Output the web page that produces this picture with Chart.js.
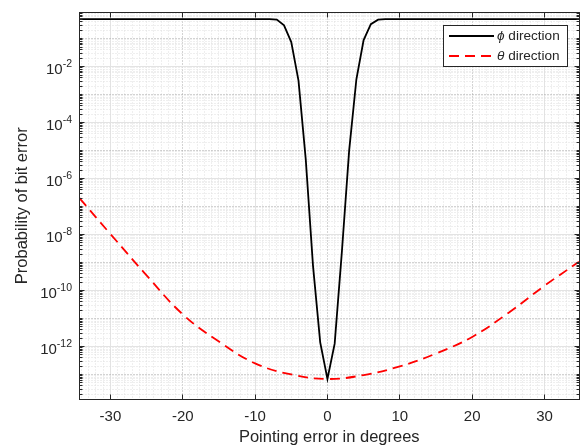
<!DOCTYPE html>
<html>
<head>
<meta charset="utf-8">
<title>Probability of bit error vs pointing error</title>
<script src="https://cdn.jsdelivr.net/npm/chart.js@4.4.0/dist/chart.umd.min.js"></script>
<style>
html, body { margin: 0; padding: 0; background: #fff; }
</style>
</head>
<body>
<canvas id="ber_canvas" width="585" height="447"></canvas>
<script>
// pointing error (degrees) and bit error probability, phi direction
var phi_x = [-34.27, -8, -7, -6, -5, -4, -3, -2, -1, 0, 1, 2, 3, 4, 5, 6, 7, 8, 34.77];
var phi_ber = [0.5, 0.5, 0.48, 0.30, 7.6e-2, 3.16e-3, 5.0e-6, 7.9e-10, 1.41e-12, 6.9e-14,
               1.26e-12, 2.5e-9, 1.0e-5, 3.55e-3, 8.9e-2, 0.33, 0.48, 0.5, 0.5];

// theta direction
var theta_x = [-34.27, -30, -25, -20, -15, -10, -5, 0, 5, 10, 15, 20, 25, 30, 34.77];
var theta_ber = [2.0e-7, 1.05e-8, 3.5e-10, 1.41e-11, 1.5e-12, 2.5e-13, 1.0e-13, 6.9e-14,
                 9.5e-14, 1.95e-13, 5.6e-13, 2.2e-12, 1.58e-11, 1.48e-10, 1.07e-9];

var x_ticks = [-30, -20, -10, 0, 10, 20, 30];
var y_tick_exp = [-2, -4, -6, -8, -10, -12];
var x_limits = [-34.27, 34.77];
var y_limits = [1.33e-14, 0.863];

var series_names = ['direction', 'direction'];
var series_symbols = ['\u03d5', '\u03b8'];

var FONT = '"Liberation Sans", Arial, Helvetica, sans-serif';
var INK = '#262626';

function toPoints(xs, ys) {
    var pts = [];
    for (var i = 0; i < xs.length; i++) {
        pts.push({ x: xs[i], y: ys[i] });
    }
    return pts;
}

function crisp(v) {
    return Math.round(v - 0.5) + 0.5;
}

// grid in the matlab style: solid majors, dotted minors
var gridPlugin = {
    id: 'matlabGrid',
    beforeDatasetsDraw: function (chart) {
        var ctx = chart.ctx;
        var area = chart.chartArea;
        var xs = chart.scales.x;
        var ys = chart.scales.y;
        ctx.save();
        ctx.beginPath();
        ctx.rect(area.left, area.top, area.right - area.left, area.bottom - area.top);
        ctx.clip();
        ctx.lineWidth = 1;

        // vertical lines, one per degree
        for (var d = Math.ceil(x_limits[0]); d <= Math.floor(x_limits[1]); d++) {
            var px = crisp(xs.getPixelForValue(d));
            if (d % 20 === 10 || d % 20 === -10) {
                ctx.setLineDash([]);
                ctx.strokeStyle = '#e3e3e3';
            } else if (d % 20 === 0) {
                ctx.setLineDash([1, 2]);
                ctx.strokeStyle = '#a6a6a6';
            } else {
                ctx.setLineDash([1, 2]);
                ctx.strokeStyle = '#dedede';
            }
            ctx.beginPath();
            ctx.moveTo(px, area.top);
            ctx.lineTo(px, area.bottom);
            ctx.stroke();
        }

        // horizontal lines at 1..9 x 10^n
        for (var n = -14; n <= 0; n++) {
            for (var m = 1; m <= 9; m++) {
                var v = m * Math.pow(10, n);
                if (v < y_limits[0] || v > y_limits[1]) continue;
                var py = crisp(ys.getPixelForValue(v));
                if (m === 1 && n % 2 === 0) {
                    ctx.setLineDash([]);
                    ctx.strokeStyle = '#e3e3e3';
                } else if (m === 1) {
                    ctx.setLineDash([1, 2]);
                    ctx.strokeStyle = '#a6a6a6';
                } else {
                    ctx.setLineDash([1, 2]);
                    ctx.strokeStyle = '#dedede';
                }
                ctx.beginPath();
                ctx.moveTo(area.left, py);
                ctx.lineTo(area.right, py);
                ctx.stroke();
            }
        }
        ctx.restore();
    },
    afterDatasetsDraw: function (chart) {
        var ctx = chart.ctx;
        var area = chart.chartArea;
        var xs = chart.scales.x;
        var ys = chart.scales.y;
        var L = crisp(area.left), R = crisp(area.right), T = crisp(area.top), B = crisp(area.bottom);
        ctx.save();
        ctx.setLineDash([]);
        ctx.strokeStyle = INK;
        ctx.lineWidth = 1;

        // axes box
        ctx.strokeRect(L, T, R - L, B - T);

        // x ticks, inward on bottom and top
        ctx.beginPath();
        x_ticks.forEach(function (t) {
            var px = crisp(xs.getPixelForValue(t));
            ctx.moveTo(px, B); ctx.lineTo(px, B - 5);
            ctx.moveTo(px, T); ctx.lineTo(px, T + 5);
        });
        // y ticks, majors every other decade, minors elsewhere
        for (var n = -14; n <= 0; n++) {
            for (var m = 1; m <= 9; m++) {
                var v = m * Math.pow(10, n);
                if (v < y_limits[0] || v > y_limits[1]) continue;
                var py = crisp(ys.getPixelForValue(v));
                var len = (m === 1 && n % 2 === 0) ? 5 : 3;
                ctx.moveTo(L, py); ctx.lineTo(L + len, py);
                ctx.moveTo(R, py); ctx.lineTo(R - len, py);
            }
        }
        ctx.stroke();

        // tick labels
        ctx.fillStyle = INK;
        ctx.font = '15px ' + FONT;
        ctx.textAlign = 'center';
        ctx.textBaseline = 'alphabetic';
        x_ticks.forEach(function (t) {
            ctx.fillText(String(t), xs.getPixelForValue(t), area.bottom + 22);
        });

        y_tick_exp.forEach(function (e) {
            var py = ys.getPixelForValue(Math.pow(10, e));
            var sup = String(e);
            ctx.font = '10.5px ' + FONT;
            var supW = ctx.measureText(sup).width;
            ctx.textAlign = 'right';
            ctx.fillText(sup, 72, py + 0.5);
            ctx.font = '15px ' + FONT;
            ctx.fillText('10', 72 - supW, py + 7.5);
        });

        // axis titles
        ctx.font = '16.5px ' + FONT;
        ctx.textAlign = 'center';
        ctx.fillText('Pointing error in degrees', (area.left + area.right) / 2, 441.5);
        ctx.save();
        ctx.translate(27, (area.top + area.bottom) / 2);
        ctx.rotate(-Math.PI / 2);
        ctx.fillText('Probability of bit error', 0, 0);
        ctx.restore();

        // legend box, top right inside the axes
        var bx = 443.5, by = 25.5, bw = 124, bh = 41;
        ctx.fillStyle = '#ffffff';
        ctx.fillRect(bx, by, bw, bh);
        ctx.strokeStyle = INK;
        ctx.strokeRect(bx, by, bw, bh);
        var rows = [36, 56];
        chart.data.datasets.forEach(function (ds, i) {
            var ry = rows[i];
            ctx.save();
            ctx.strokeStyle = ds.borderColor;
            ctx.lineWidth = ds.borderWidth;
            ctx.setLineDash(ds.borderDash || []);
            ctx.beginPath();
            ctx.moveTo(449, ry);
            ctx.lineTo(494, ry);
            ctx.stroke();
            ctx.restore();
            ctx.fillStyle = INK;
            ctx.textAlign = 'left';
            ctx.textBaseline = 'middle';
            ctx.font = 'italic 13.6px ' + FONT;
            ctx.fillText(series_symbols[i], 497, ry + 0.5);
            var symW = ctx.measureText(series_symbols[i]).width;
            ctx.font = '13.6px ' + FONT;
            ctx.fillText(' ' + series_names[i], 497 + symW, ry + 0.5);
        });
        ctx.restore();
    }
};

function ber_chart() {
    var ctx = document.getElementById('ber_canvas');
    new Chart(ctx, {
        type: 'line',
        data: {
            datasets: [{
                label: '\u03d5 direction',
                data: toPoints(phi_x, phi_ber),
                borderColor: '#000000',
                borderWidth: 1.8,
                pointRadius: 0,
                tension: 0,
                fill: false
            }, {
                label: '\u03b8 direction',
                data: toPoints(theta_x, theta_ber),
                borderColor: '#ff0000',
                borderWidth: 1.8,
                borderDash: [10, 6],
                pointRadius: 0,
                tension: 0.4,
                fill: false
            }]
        },
        options: {
            responsive: false,
            animation: false,
            devicePixelRatio: 1,
            layout: { padding: { top: 12.5, right: 6, left: 0, bottom: 0 } },
            plugins: {
                legend: { display: false },
                tooltip: { enabled: false }
            },
            scales: {
                x: {
                    type: 'linear',
                    min: x_limits[0],
                    max: x_limits[1],
                    grid: { display: false },
                    border: { display: false },
                    ticks: { display: false },
                    afterFit: function (s) { s.height = 48; }
                },
                y: {
                    type: 'logarithmic',
                    min: y_limits[0],
                    max: y_limits[1],
                    grid: { display: false },
                    border: { display: false },
                    ticks: { display: false },
                    afterFit: function (s) { s.width = 79.5; }
                }
            }
        },
        plugins: [gridPlugin]
    });
}

ber_chart();
</script>
</body>
</html>
